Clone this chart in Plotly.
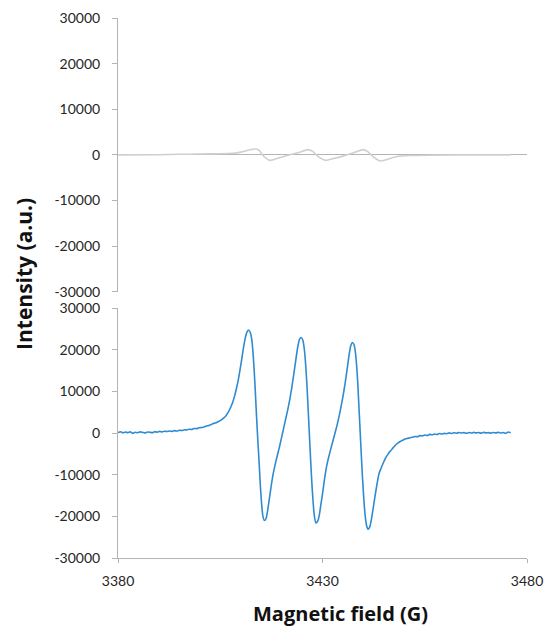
import plotly.graph_objects as go

# ---- data ----
x_range = [3380, 3480]
x_ticks = [3380, 3430, 3480]
x_tick_text = ["3380", "3430", "3480"]
y_ticks = [-30000, -20000, -10000, 0, 10000, 20000, 30000]
y_tick_text = ["-30000", "-20000", "-10000", "0", "10000", "20000", "30000"]

gray_x = [3380, 3390, 3395, 3400, 3405, 3408, 3410, 3412, 3413.5, 3414.4, 3415.6, 3417.2,
          3419, 3421.6, 3424.2, 3426.5, 3427.6, 3429.1, 3430.8, 3432.7, 3435.2, 3437.8,
          3439.9, 3441.0, 3442.5, 3444.2, 3445.9, 3448, 3451.4, 3457, 3465, 3476]
gray_y = [0, 30, 120, 180, 250, 350, 600, 1050, 1300, 1100, -300, -1200,
          -750, -80, 500, 1150, 750, -500, -1200, -800, -220, 500,
          1150, 750, -500, -1350, -950, -400, -150, -60, 0, 0]

blue_x = [3380.0, 3380.6, 3381.2, 3381.8, 3382.4, 3383.0, 3383.6, 3384.2, 3384.8, 3385.4,
          3386.0, 3386.6, 3387.2, 3387.8, 3388.4, 3389.0, 3389.6, 3390.2, 3390.8, 3391.4,
          3392.0, 3392.6, 3393.2, 3393.8, 3394.4, 3395.0, 3395.6, 3396.2, 3396.8, 3397.4,
          3398.0, 3398.6, 3399.2, 3399.8, 3400.4, 3401.0, 3401.6, 3402.2, 3402.8, 3403.4,
          3404.0, 3404.6, 3405.2, 3405.8, 3406.4, 3407.0, 3407.5, 3408.0, 3408.5, 3409.0,
          3409.5, 3410.0, 3410.5, 3411.0, 3411.5, 3411.9, 3412.3, 3412.7, 3413.0, 3413.3,
          3413.6, 3413.9, 3414.2, 3414.5, 3414.8, 3415.1, 3415.4, 3415.8, 3416.2, 3416.6,
          3417.0, 3417.5, 3418.0, 3418.5, 3419.0, 3419.5, 3420.0, 3420.5, 3421.0, 3421.5,
          3422.0, 3422.5, 3423.0, 3423.5, 3424.0, 3424.4, 3424.8, 3425.2, 3425.6, 3425.9,
          3426.2, 3426.5, 3426.8, 3427.1, 3427.4, 3427.7, 3428.0, 3428.4, 3428.8, 3429.2,
          3429.6, 3430.0, 3430.5, 3431.0, 3431.5, 3432.0, 3432.5, 3433.0, 3433.5, 3434.0,
          3434.5, 3435.0, 3435.5, 3436.0, 3436.5, 3436.9, 3437.3, 3437.7, 3438.0, 3438.3,
          3438.6, 3438.9, 3439.2, 3439.5, 3439.8, 3440.1, 3440.4, 3440.8, 3441.2, 3441.6,
          3442.0, 3442.4, 3442.8, 3443.3, 3443.8, 3444.3, 3444.8, 3445.4, 3446.0, 3446.6,
          3447.2, 3447.8, 3448.4, 3449.0, 3449.6, 3450.2, 3450.8, 3451.4, 3452.0, 3452.6,
          3453.2, 3453.8, 3454.4, 3455.0, 3455.6, 3456.2, 3456.8, 3457.4, 3458.0, 3458.6,
          3459.2, 3459.8, 3460.4, 3461.0, 3461.6, 3462.2, 3462.8, 3463.4, 3464.0, 3464.6,
          3465.2, 3465.8, 3466.4, 3467.0, 3467.6, 3468.2, 3468.8, 3469.4, 3470.0, 3470.6,
          3471.2, 3471.8, 3472.4, 3473.0, 3473.6, 3474.2, 3474.8, 3475.4, 3476.0]
blue_y = [150, 320, 80, 260, 120, 300, -60, 200, 90, 310,
          180, 60, 280, 220, 120, 360, 240, 420, 300, 460,
          380, 520, 420, 600, 500, 700, 620, 820, 760, 950,
          880, 1120, 1080, 1300, 1350, 1500, 1700, 1850, 2100, 2350,
          2500, 2800, 3150, 3600, 4200, 5100, 6100, 7300, 8900, 10900,
          13300, 16200, 19400, 22300, 24200, 24800, 24300, 22600, 19500, 15000,
          9500, 3500, -2000, -7000, -12500, -16800, -19800, -21000, -20500, -18500,
          -15800, -12400, -9500, -7200, -5200, -3200, -1000, 1200, 3400, 5600,
          8100, 11000, 14300, 17800, 21000, 22600, 23000, 22300, 19800, 16200,
          11500, 5500, -500, -6500, -12000, -16500, -19800, -21600, -21200, -19800,
          -17200, -14600, -11000, -8000, -5800, -3900, -2000, -200, 1700, 3800,
          6200, 8800, 11800, 15200, 18800, 21000, 21800, 21300, 19800, 16800,
          12500, 6500, 500, -5500, -11000, -15800, -19500, -22300, -23100, -22400,
          -20500, -18000, -15400, -12400, -9800, -8500, -7300, -6000, -5100, -4300,
          -3600, -2900, -2400, -2000, -1700, -1400, -1250, -1100, -1000, -800,
          -850, -600, -650, -450, -550, -300, -400, -200, -320, -100,
          -220, -50, -150, 60, -80, 100, -20, 150, 40, 120,
          -40, 160, 30, 180, 60, 140, -20, 190, 70, 130,
          -10, 170, 60, 200, 20, 140, -50, 280, 80]

# ---- figure ----
AXIS = "#b4b4b4"
TXT = "#262626"
FONT = "Lato"
TFONT = "Open Sans"

fig = go.Figure()
fig.add_trace(go.Scatter(x=gray_x, y=gray_y, mode="lines", xaxis="x", yaxis="y",
                         line=dict(color="#cfcfcf", width=1.6, shape="spline", smoothing=0.6),
                         showlegend=False, hoverinfo="skip"))
fig.add_trace(go.Scatter(x=blue_x, y=blue_y, mode="lines", xaxis="x2", yaxis="y2",
                         line=dict(color="#2f8bd0", width=1.6, shape="spline", smoothing=0.5),
                         showlegend=False, hoverinfo="skip"))

yax = dict(range=[-30000, 30000], tickvals=y_ticks, ticktext=y_tick_text, showgrid=False,
           showline=True, linecolor=AXIS, linewidth=1, ticks="outside", ticklen=5,
           tickcolor=AXIS, tickfont=dict(family=FONT, size=14, color=TXT),
           ticklabelstandoff=9, automargin=False, fixedrange=True)

fig.update_layout(
    width=546, height=628,
    margin=dict(l=118, r=19, t=18, b=70),
    paper_bgcolor="white", plot_bgcolor="white",
    font=dict(family=FONT, color=TXT),
    xaxis=dict(range=x_range, anchor="y", showline=False, showticklabels=False,
               showgrid=False, zeroline=False, ticks="", automargin=False),
    xaxis2=dict(range=x_range, anchor="y2", tickvals=x_ticks, ticktext=x_tick_text,
                showgrid=False, zeroline=False,
                showline=True, linecolor=AXIS, linewidth=1, ticks="outside", ticklen=4,
                tickcolor=AXIS, tickfont=dict(family=FONT, size=14, color=TXT),
                ticklabelstandoff=6, automargin=False),
    yaxis=dict(domain=[0.4931, 1.0], anchor="x", zeroline=True, zerolinecolor=AXIS,
               zerolinewidth=1, **yax),
    yaxis2=dict(domain=[0.0, 0.4624], anchor="x2", zeroline=False, **yax),
    annotations=[
        dict(text="<b>Intensity (a.u.)</b>", textangle=-90, xref="paper", yref="paper",
             x=-0.2317, y=0.5265, xanchor="center", yanchor="middle", showarrow=False,
             font=dict(family=TFONT, size=21, color="#111111")),
        dict(text="<b>Magnetic field (G)</b>", xref="paper", yref="paper",
             x=0.5444, y=-0.103, xanchor="center", yanchor="middle", showarrow=False,
             font=dict(family=TFONT, size=20, color="#111111")),
    ],
)

fig.write_html("out.html")
